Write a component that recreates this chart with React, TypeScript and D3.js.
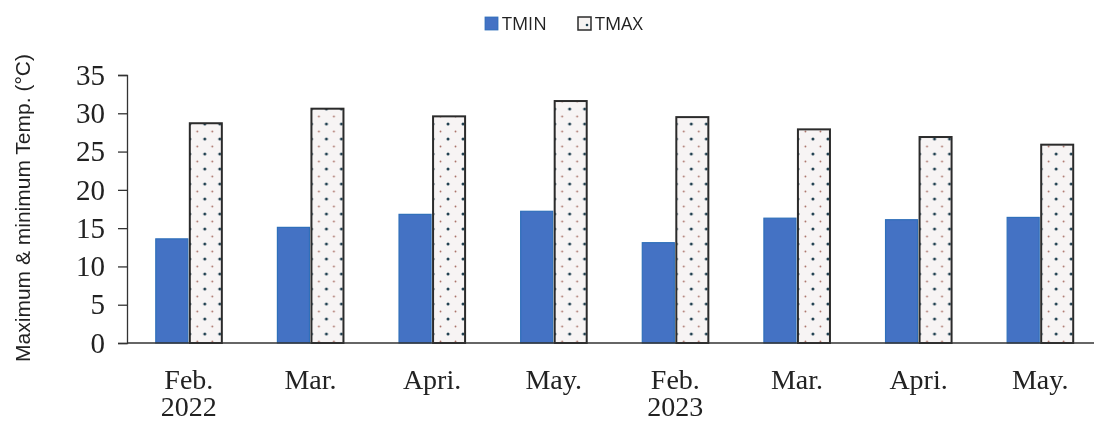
import React, { useEffect, useRef } from 'react'
import * as d3 from 'd3'

const months = ['Feb.', 'Mar.', 'Apri.', 'May.', 'Feb.', 'Mar.', 'Apri.', 'May.']
const years = ['2022', '', '', '', '2023', '', '', '']
const tmin = [13.6, 15.1, 16.8, 17.2, 13.1, 16.3, 16.1, 16.4]
const tmax = [28.7, 30.6, 29.6, 31.6, 29.5, 27.9, 26.9, 25.9]
const series = ['TMIN', 'TMAX']
const yTicks = [0, 5, 10, 15, 20, 25, 30, 35]

const serif = '"Liberation Serif", "Times New Roman", Times, serif'

const App = () => {
    const ref = useRef<SVGSVGElement>(null)

    useEffect(() => {
        drawChart()
    }, [])

    const drawChart = () => {
        const width = 1094
        const height = 423
        const svg = d3.select(ref.current)
        svg.selectAll('*').remove()
        svg.attr('width', width).attr('height', height)

        const keys = months.map((m, i) => i)
        const x = d3.scaleBand<number>()
            .domain(keys)
            .range([128, 1101])
            .paddingInner(0.457)
            .paddingOuter(0.2285)
        const xSub = d3.scaleBand<string>()
            .domain(series)
            .range([0, x.bandwidth()])
        const y = d3.scaleLinear()
            .domain([0, 35])
            .range([343, 75])

        // dotted fill for TMAX
        const defs = svg.append('defs')
        const pat = defs.append('pattern')
            .attr('id', 'dots')
            .attr('patternUnits', 'userSpaceOnUse')
            .attr('width', 15)
            .attr('height', 15)
        pat.append('rect').attr('width', 15).attr('height', 15).attr('fill', '#f7f4f4')
        pat.append('circle').attr('cx', 4).attr('cy', 4).attr('r', 1.5).attr('fill', '#1f3f4f')
        pat.append('circle').attr('cx', 11.5).attr('cy', 11.5).attr('r', 0.9).attr('fill', '#a86e64')

        const rows = keys.map(i => ({ i, TMIN: tmin[i], TMAX: tmax[i] }))

        const g = svg.append('g')
        g.selectAll('g.grp')
            .data(rows)
            .enter()
            .append('g')
            .attr('transform', d => `translate(${x(d.i)},0)`)
            .selectAll('rect')
            .data(d => series.map(s => ({ s, v: (d as any)[s] as number })))
            .enter()
            .append('rect')
            .attr('x', d => (xSub(d.s) as number) + (d.s === 'TMAX' ? 1 : 0))
            .attr('y', d => y(d.v))
            .attr('width', d => xSub.bandwidth() - 1)
            .attr('height', d => y(0) - y(d.v))
            .attr('fill', d => d.s === 'TMIN' ? '#4472c4' : 'url(#dots)')
            .attr('stroke', d => d.s === 'TMIN' ? '#2f6fba' : '#2b2b2b')
            .attr('stroke-width', d => d.s === 'TMIN' ? 1.2 : 2)

        // y axis
        const yAxis = d3.axisLeft(y).tickValues(yTicks).tickSize(9).tickPadding(13)
        const ya = svg.append('g')
            .attr('transform', 'translate(127,0)')
            .call(yAxis)
        ya.select('.domain').attr('stroke', '#333').attr('stroke-width', 1.3)
        ya.selectAll('.tick line').attr('stroke', '#333').attr('stroke-width', 1.3)
        ya.selectAll('.tick text')
            .attr('font-family', serif)
            .attr('font-size', 29)
            .attr('fill', '#222')

        // x axis line
        svg.append('line')
            .attr('x1', 127).attr('x2', width)
            .attr('y1', y(0)).attr('y2', y(0))
            .attr('stroke', '#333').attr('stroke-width', 1.5)

        // category labels, month and year on two lines of one text
        const lbl = svg.append('g')
            .attr('font-family', serif)
            .attr('font-size', 28)
            .attr('fill', '#222')
            .attr('text-anchor', 'middle')
        const t = lbl.selectAll('text')
            .data(keys)
            .enter()
            .append('text')
            .attr('y', 389)
        t.append('tspan')
            .attr('x', i => (x(i) as number) + x.bandwidth() / 2)
            .text(i => months[i])
        t.filter(i => !!years[i])
            .append('tspan')
            .attr('x', i => (x(i) as number) + x.bandwidth() / 2)
            .attr('dy', 27)
            .text(i => years[i])

        // y title
        svg.append('text')
            .attr('transform', 'translate(30,208) rotate(-90)')
            .attr('text-anchor', 'middle')
            .attr('font-family', '"Liberation Sans", Arial, sans-serif')
            .attr('font-size', 21)
            .attr('fill', '#222')
            .text('Maximum & minimum Temp. (°C)')

        // legend
        const legend = svg.append('g')
            .attr('font-family', '"Open Sans", "Noto Sans", sans-serif')
            .attr('font-size', 18)
            .attr('fill', '#222')
        const lx = [485, 578]
        series.forEach((s, i) => {
            legend.append('rect')
                .attr('x', lx[i]).attr('y', 17)
                .attr('width', 13).attr('height', 13)
                .attr('fill', s === 'TMIN' ? '#4472c4' : '#f6f3f2')
                .attr('stroke', s === 'TMIN' ? '#2f6fba' : '#2b2b2b')
                .attr('stroke-width', s === 'TMIN' ? 0.8 : 1.5)
            if (s === 'TMAX') {
                legend.append('circle').attr('cx', lx[i] + 9).attr('cy', 25).attr('r', 1.3).attr('fill', '#1f3f4f')
            }
            legend.append('text')
                .attr('x', lx[i] + 17).attr('y', 30)
                .text(s)
        })
    }

    return (
        <div style={{ position: 'fixed', top: 0, left: 0 }}>
            <svg ref={ref} style={{ display: 'block' }}></svg>
        </div>
    )
}

export default App
